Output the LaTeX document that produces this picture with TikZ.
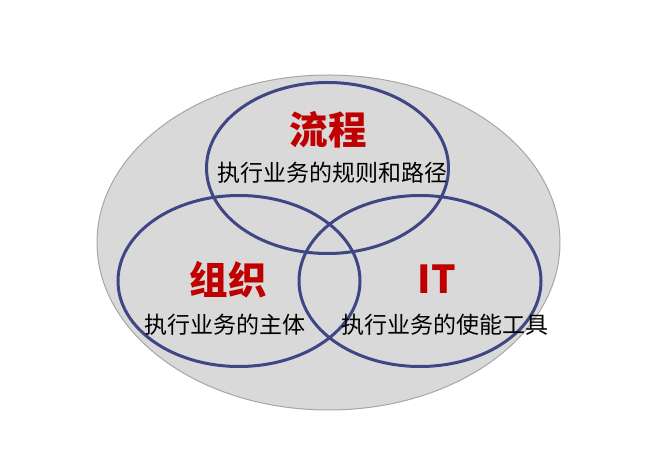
\documentclass[tikz,border=0pt]{standalone}
\usepackage{fontspec}
\newfontfamily\cjk{Noto Sans CJK SC}
\usetikzlibrary{shapes.geometric}
\definecolor{ringblue}{RGB}{62,70,132}
\definecolor{titlered}{RGB}{192,0,0}
\definecolor{basegray}{RGB}{217,217,217}
\definecolor{edgegray}{RGB}{166,166,166}
\begin{document}
\begin{tikzpicture}[x=1pt, y=-1pt,
    ring/.style={ellipse, draw=ringblue, line width=3pt, minimum width=242pt, minimum height=171pt},
    title/.style={font=\cjk\fontsize{38.5}{42}\selectfont\bfseries, text=titlered},
    caption/.style={font=\cjk\fontsize{23}{26}\selectfont, text=black}]
    \useasboundingbox (0,0) rectangle (646,454);
    % Outer area
    \node[ellipse, fill=basegray, draw=edgegray, line width=1pt, minimum width=463pt, minimum height=335pt] (base) at (328.5,242.5) {};
    % Three rings
    \node[ring] (process) at (327.5,168) {};
    \node[ring] (org) at (239,281) {};
    \node[ring] (it) at (420,281) {};
    % Texts
    \node[title] (processT) at (328,130) {流程};
    \node[caption] (processC) at (332,173) {执行业务的规则和路径};
    \node[title] (orgT) at (228,280) {组织};
    \node[caption] (orgC) at (225,325) {执行业务的主体};
    \node[title] (itT) at (437,279) {IT};
    \node[caption] (itC) at (445,325) {执行业务的使能工具};
\end{tikzpicture}
\end{document}
